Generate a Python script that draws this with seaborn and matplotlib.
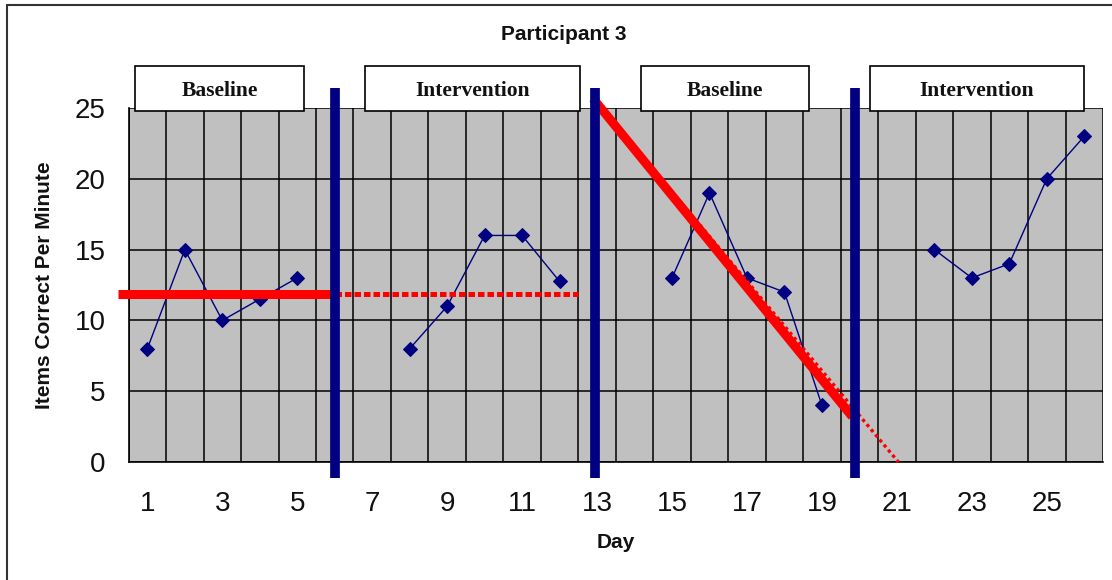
import matplotlib
matplotlib.use("Agg")
import matplotlib.pyplot as plt
import matplotlib.patches as mpatches
from matplotlib.lines import Line2D
import numpy as np
import pandas as pd
import seaborn as sns

# ---------------- data ----------------
phase_names = ["Baseline", "Intervention", "Baseline", "Intervention"]
days_b1 = [1, 2, 3, 4, 5]
vals_b1 = [8, 15, 10, 11.5, 13]
days_i1 = [8, 9, 10, 11, 12]
vals_i1 = [8, 11, 16, 16, 12.75]
days_b2 = [15, 16, 17, 18, 19]
vals_b2 = [13, 19, 13, 12, 4]
days_i2 = [22, 23, 24, 25, 26]
vals_i2 = [15, 13, 14, 20, 23]

phase_change_days = [6, 12.94, 19.88]
phase_box_left = [0.67, 6.81, 14.18, 20.28]
phase_box_right = [5.19, 12.54, 18.66, 26.0]

baseline_level = 11.85
baseline_level_x = [0.23, 6.0]
projection_x = [6.0, 12.5]
trend_x = [12.89, 19.81]
trend_y = [25.68, 3.2]
trend_ext_x = [13.0, 21.04]
trend_ext_y = [25.4, 0.0]

xtick_labels = [str(d) for d in range(1, 26, 2)]
ytick_vals = [0, 5, 10, 15, 20, 25]

title = "Participant 3"
xlabel = "Day"
ylabel = "Items Correct Per Minute"

# ---------------- style ----------------
sns.set_style("white")
plt.rcParams["font.family"] = ["Liberation Sans", "DejaVu Sans"]

NAVY = "#000080"
RED = "#FF0000"

W, H = 1112, 580
fig = plt.figure(figsize=(W / 100, H / 100), dpi=100)
ax = fig.add_axes([128.6 / W, 1 - 462 / H, (1103 - 128.6) / W, (462 - 108) / H])
ax.set_facecolor("#C0C0C0")

df = pd.DataFrame({
    "day": days_b1 + days_i1 + days_b2 + days_i2,
    "value": vals_b1 + vals_i1 + vals_b2 + vals_i2,
    "phase": [0] * len(days_b1) + [1] * len(days_i1) + [2] * len(days_b2) + [3] * len(days_i2),
})
for ph, sub in df.groupby("phase"):
    sns.lineplot(data=sub, x="day", y="value", ax=ax, color=NAVY, lw=1.0,
                 marker="D", markersize=7.5, markeredgecolor=NAVY,
                 estimator=None, sort=False, zorder=4, legend=False)

ax.set_xlim(0.5, 26.5)
ax.set_ylim(0, 25)

# grid: vertical at category boundaries, horizontal at majors
ax.set_xticks(np.arange(0.5, 27, 1))
ax.set_xticklabels([])
ax.set_xticks(np.arange(1, 26, 2), minor=True)
ax.set_xticklabels(xtick_labels, minor=True)
ax.set_yticks(ytick_vals)
ax.set_yticklabels([str(v) for v in ytick_vals])
ax.grid(True, which="major", color="black", lw=1.1)
ax.set_axisbelow(True)

ax.tick_params(axis="x", which="major", direction="out", length=7.5, width=1.1, color="black")
ax.tick_params(axis="x", which="minor", length=0, pad=21, labelsize=20, labelcolor="#111111")
ax.tick_params(axis="y", which="major", direction="out", length=7.5, width=1.1, color="black",
               pad=9, labelsize=20, labelcolor="#111111")

for s in ["top", "right"]:
    ax.spines[s].set_visible(False)
for s in ["left", "bottom"]:
    ax.spines[s].set_color("black")
    ax.spines[s].set_linewidth(1.2)

ax.set_xlabel(xlabel, fontsize=15, fontweight="bold", color="#111111")
ax.set_ylabel(ylabel, fontsize=15, fontweight="bold", color="#111111")
ax.xaxis.set_label_coords(0.5, (462 - 543) / 354)
ax.xaxis.label.set_va("center")
ax.yaxis.set_label_coords((45 - 128.6) / 974.3, 0.5)
ax.yaxis.label.set_va("center")

# red level lines
ax.plot(baseline_level_x, [baseline_level] * 2, color=RED, lw=6.5,
        solid_capstyle="butt", clip_on=False, zorder=5)
ax.plot(projection_x, [baseline_level] * 2, color=RED, lw=3.6,
        ls=(0, (1.3, 0.6)), dash_capstyle="butt", clip_on=False, zorder=5)
# trend
ax.plot(trend_x, trend_y, color=RED, lw=6.5, solid_capstyle="butt", clip_on=False, zorder=5)
ax.plot(trend_ext_x, trend_ext_y, color=RED, lw=2.4, ls=(0, (1.0, 1.0)),
        dash_capstyle="butt", clip_on=False, zorder=5)

# phase change lines
for xd in phase_change_days:
    ax.plot([xd, xd], [-1.11, 26.39], color=NAVY, lw=7, solid_capstyle="butt",
            clip_on=False, zorder=6)

# phase label boxes
box_bottom, box_top = 24.79, 27.97
for name, l, r in zip(phase_names, phase_box_left, phase_box_right):
    rect = mpatches.Rectangle((l, box_bottom), r - l, box_top - box_bottom, facecolor="white",
                              edgecolor="black", lw=1.2, clip_on=False, zorder=7)
    ax.add_patch(rect)
    ax.text((l + r) / 2, (box_bottom + box_top) / 2 - 0.2, name, ha="center", va="center",
            fontsize=15.5, fontweight="bold", family=["Liberation Serif", "DejaVu Serif"],
            color="#111111", zorder=8, clip_on=False)

# title
fig.text(564 / W, 1 - 34 / H, title, ha="center", va="center", fontsize=15,
         fontweight="bold", color="#111111")

# outer border (top & left visible)
fig.add_artist(Line2D([7 / W, 1.0], [1 - 5 / H, 1 - 5 / H], transform=fig.transFigure,
                      color="#333333", lw=1.5))
fig.add_artist(Line2D([7 / W, 7 / W], [0.0, 1 - 5 / H], transform=fig.transFigure,
                      color="#333333", lw=1.5))

fig.savefig("out.png", dpi=100)
